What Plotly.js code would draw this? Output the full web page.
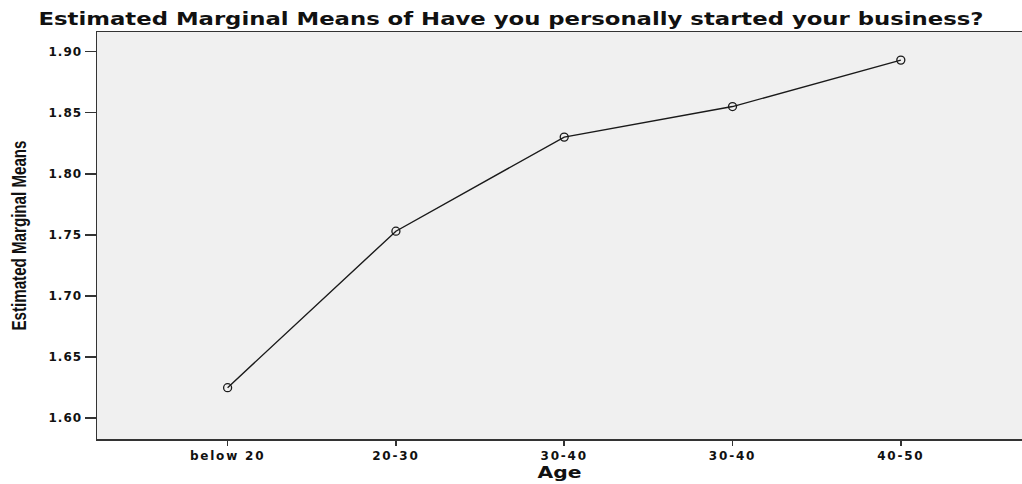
<!DOCTYPE html>
<html>
<head>
<meta charset="utf-8">
<script src="https://cdn.plot.ly/plotly-3.0.1.min.js"></script>
<style>
html,body{margin:0;padding:0;background:#fff;}
#chart{width:1022px;height:484px;}
#chart .xtick text{letter-spacing:1.8px;}
#chart .ytick text{letter-spacing:1px;}
</style>
</head>
<body>
<div id="chart"></div>
<script>
const categories = ["below 20", "20-30", "30-40", "30-40", "40-50"];
const means = [1.625, 1.753, 1.830, 1.855, 1.893];
const yTickVals = [1.60, 1.65, 1.70, 1.75, 1.80, 1.85, 1.90];
const yTickText = ["1.60", "1.65", "1.70", "1.75", "1.80", "1.85", "1.90"];
const chartTitle = "Estimated Marginal Means of Have you personally started your business?";
const xTitle = "Age";
const yTitle = "Estimated Marginal Means";

const xIdx = categories.map((_, i) => i);
const wideFont = "DejaVu Sans, Verdana, sans-serif";

const trace = {
  x: xIdx,
  y: means,
  type: "scatter",
  mode: "lines+markers",
  line: {color: "#1a1a1a", width: 1.4},
  marker: {symbol: "circle-open", size: 8, color: "#1a1a1a", line: {width: 1.3, color: "#1a1a1a"}},
  hoverinfo: "skip"
};

const layout = {
  width: 1022,
  height: 484,
  margin: {l: 97, r: 0, t: 32, b: 45},
  paper_bgcolor: "#ffffff",
  plot_bgcolor: "#f0f0f0",
  showlegend: false,
  title: {
    text: chartTitle,
    font: {family: wideFont, size: 18, weight: "bold", color: "#111"},
    x: 0.5, xref: "container", xanchor: "center",
    y: 1 - 18.5 / 484, yref: "container", yanchor: "middle"
  },
  xaxis: {
    range: [-0.776, 4.72],
    tickmode: "array",
    tickvals: xIdx,
    ticktext: categories,
    ticks: "outside", ticklen: 5, tickwidth: 1.5, tickcolor: "#333",
    showline: true, linecolor: "#333", linewidth: 1.5, mirror: true,
    showgrid: false, zeroline: false,
    tickfont: {family: wideFont, size: 12, weight: "bold", color: "#111"},
    title: {text: xTitle, font: {family: wideFont, size: 16, weight: "bold", color: "#111"}, standoff: 5}
  },
  yaxis: {
    range: [1.583, 1.916],
    tickmode: "array",
    tickvals: yTickVals,
    ticktext: yTickText,
    ticks: "outside", ticklen: 11, tickwidth: 1.5, tickcolor: "#333",
    showline: true, linecolor: "#333", linewidth: 1.5,
    showgrid: false, zeroline: false,
    tickfont: {family: wideFont, size: 12, weight: "bold", color: "#111"},
    title: {text: yTitle, font: {family: "Liberation Sans, Arial, sans-serif", size: 21, weight: "bold", color: "#111"}, standoff: 20}
  }
};

Plotly.newPlot("chart", [trace], layout, {displayModeBar: false, staticPlot: true}).then(gd => {
  const fit = (sel, len) => {
    const t = gd.querySelector(sel);
    if (t) { t.setAttribute("textLength", len); t.setAttribute("lengthAdjust", "spacingAndGlyphs"); }
  };
  fit(".gtitle", 945);
  fit(".g-ytitle text", 190);
  fit(".g-xtitle text", 44);
});
</script>
</body>
</html>
